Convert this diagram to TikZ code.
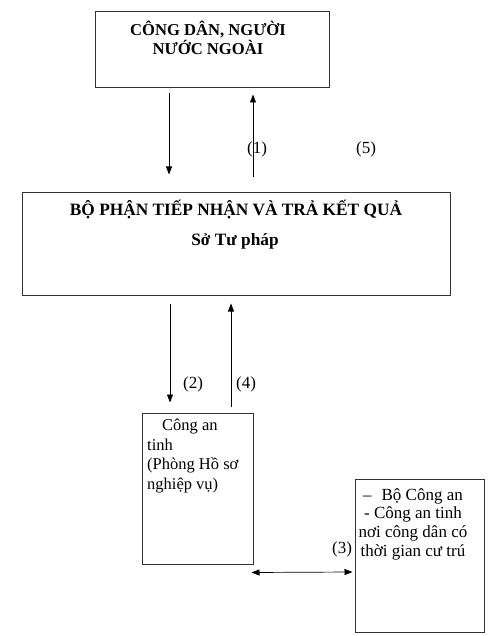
\documentclass[tikz,border=0pt]{standalone}
\usepackage{fontspec}
\setmainfont{Liberation Serif}
\usetikzlibrary{arrows.meta}

\begin{document}
\begin{tikzpicture}[x=1pt,y=-1pt,
    boxframe/.style={draw=black!80, line width=1pt, inner sep=0pt},
    flow/.style={-{Triangle[length=8pt,width=6pt]}, line width=0.7pt},
    numlabel/.style={font=\fontsize{17}{19}\selectfont, inner sep=0pt},
    plaintext/.style={font=\fontsize{16.5}{19.5}\selectfont, inner sep=0pt},
    headtext/.style={font=\bfseries\fontsize{17.3}{19}\selectfont, inner sep=0pt}]
  \useasboundingbox (0,0) rectangle (498,636);
  \node[boxframe, minimum width=234pt, minimum height=76pt] (citizen) at (212,50) {};
  \node[boxframe, minimum width=428pt, minimum height=102pt] (office) at (236,244) {};
  \node[boxframe, minimum width=111pt, minimum height=151pt] (police) at (197.5,488.5) {};
  \node[boxframe, minimum width=129pt, minimum height=153pt] (ministry) at (419.5,555.5) {};
  \node[headtext, font=\bfseries\fontsize{16.6}{19}\selectfont, align=center, anchor=north] (citizentext) at (208,21)
    {CÔNG DÂN, NGƯỜI\\NƯỚC NGOÀI};
  \node[headtext, anchor=base] (officetext) at (236,215) {BỘ PHẬN TIẾP NHẬN VÀ TRẢ KẾT QUẢ};
  \node[headtext, anchor=base] (officesub) at (235,245) {Sở Tư pháp};
  \node[plaintext, align=left, anchor=north west] (policetext) at (147,419)
    {\hspace*{15pt}Công an\\tinh\\(Phòng Hồ sơ\\nghiệp vụ)};
  \node[plaintext, font=\fontsize{17}{18.8}\selectfont, align=center, anchor=north] (ministrytext) at (413,488)
    {–\hspace{10pt}Bộ Công an\\- Công an tinh\\nơi công dân có\\thời gian cư trú};
  \draw[flow] ([xshift=-43pt,yshift=-5pt]citizen.south) -- ([xshift=-67pt,yshift=18pt]office.north);
  \draw[flow] ([xshift=17pt,yshift=15pt]office.north) -- ([xshift=41pt,yshift=-6pt]citizen.south);
  \draw[flow] ([xshift=-66pt,yshift=-8pt]office.south) -- ([xshift=-27.5pt,yshift=10pt]police.north);
  \draw[flow] ([xshift=33.5pt,yshift=6pt]police.north) -- ([xshift=-5pt,yshift=-8pt]office.south);
  \draw[flow, {Triangle[length=8pt,width=6pt]}-{Triangle[length=8pt,width=6pt]}]
    ([xshift=-2pt,yshift=-8pt]police.south east) -- ([xshift=-2pt,yshift=-16.5pt]ministry.west);
  \node[numlabel] (step1) at (257,149) {(1)};
  \node[numlabel] (step5) at (366,149) {(5)};
  \node[numlabel] (step2) at (193,384) {(2)};
  \node[numlabel] (step4) at (246,384) {(4)};
  \node[numlabel] (step3) at (342,549) {(3)};
\end{tikzpicture}
\end{document}
